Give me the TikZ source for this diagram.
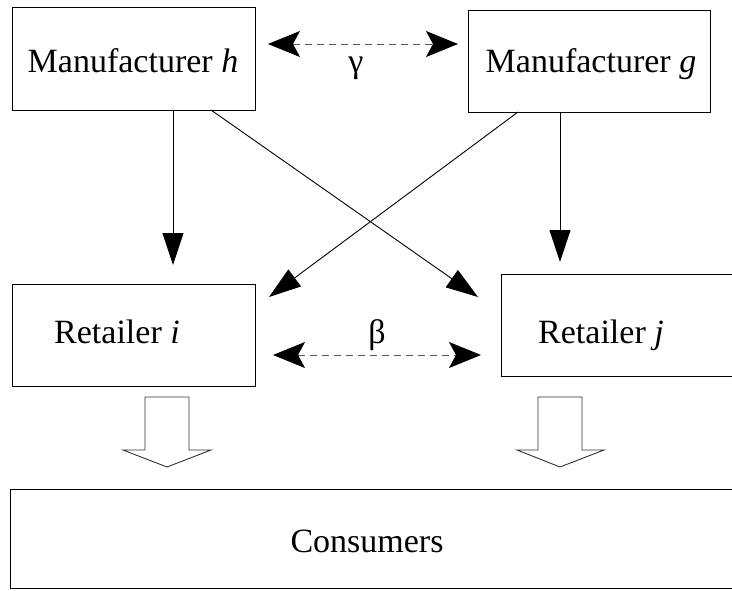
\documentclass[tikz,border=0pt]{standalone}
\usepackage{fontspec}
\setmainfont{Liberation Serif}
\newfontfamily\tnr{Liberation Serif}
\usetikzlibrary{arrows.meta}
\tikzset{
  box/.style={draw, line width=1pt, inner sep=0pt, outer sep=0pt},
  lbl/.style={anchor=base, inner sep=0pt, font=\tnr\fontsize{34}{40}\selectfont},
  solidarrow/.style={line width=0.9pt, -{Triangle[length=32pt,width=21pt]}},
  dasharrow/.style={line width=0.9pt, draw=black!65, dash pattern=on 7pt off 5pt,
     {Stealth[length=32pt,width=26pt,inset=7pt,fill=black,color=black]}-{Stealth[length=32pt,width=26pt,inset=7pt,fill=black,color=black]}},
  blockarrow/.style={draw=black!80, line width=0.9pt, fill=white, line join=miter}
}
\begin{document}
\begin{tikzpicture}[x=1pt,y=-1pt]
\useasboundingbox (0,0) rectangle (732,590);
\clip (0,0) rectangle (732,590);
\fill[white] (0,0) rectangle (732,590);
% boxes
\node[box, minimum width=243pt, minimum height=103pt] (mh) at (133.5,58.5) {};
\node[box, minimum width=242pt, minimum height=102pt] (mg) at (589,61) {};
\node[box, minimum width=243pt, minimum height=102pt] (ri) at (133.5,335) {};
\node[box, minimum width=244pt, minimum height=102pt] (rj) at (623,325) {};
\node[box, minimum width=735pt, minimum height=99pt] (cons) at (377.5,538.5) {};
% texts
\node[lbl] (tmh) at (133,72) {Manufacturer \textit{h}};
\node[lbl] (tmg) at (591,72) {Manufacturer \textit{g}};
\node[lbl] (tri) at (117,343) {Retailer \textit{i}};
\node[lbl] (trj) at (601,343) {Retailer \textit{j}};
\node[lbl] (tcons) at (367,552) {Consumers};
\node[lbl] (gam) at (356,72) {γ};
\node[lbl] (bet) at (377,343) {β};
% arrow end points
\coordinate (h1) at (173,110);
\coordinate (h1t) at (173,265);
\coordinate (h2) at (211,110);
\coordinate (h2t) at (478,297);
\coordinate (g1) at (560,112);
\coordinate (g1t) at (560,262);
\coordinate (g2) at (518,112);
\coordinate (g2t) at (269,297);
\coordinate (ga) at (268,44);
\coordinate (gb) at (458,44);
\coordinate (ba) at (273,355);
\coordinate (bb) at (481,355);
% solid arrows
\draw[solidarrow] (h1) -- (h1t);
\draw[solidarrow] (h2) -- (h2t);
\draw[solidarrow] (g1) -- (g1t);
\draw[solidarrow] (g2) -- (g2t);
% dashed double arrows
\draw[dasharrow] (ga) -- (gb);
\draw[dasharrow] (ba) -- (bb);
% hollow block arrows
\draw[blockarrow] (145,397) -- (189,397) -- (189,450) -- (211,450) -- (167,467) -- (123,450) -- (145,450) -- cycle;
\draw[blockarrow] (538,397) -- (582,397) -- (582,450) -- (604,450) -- (560,467) -- (517,450) -- (538,450) -- cycle;
\end{tikzpicture}
\end{document}
